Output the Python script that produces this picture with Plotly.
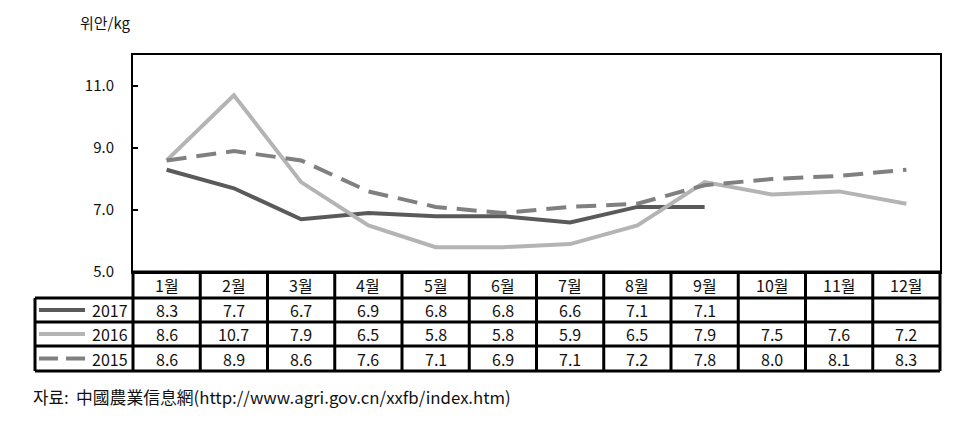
import plotly.graph_objects as go

months = ["1월", "2월", "3월", "4월", "5월", "6월", "7월", "8월", "9월", "10월", "11월", "12월"]
years = ["2017", "2016", "2015"]
v2017 = [8.3, 7.7, 6.7, 6.9, 6.8, 6.8, 6.6, 7.1, 7.1, None, None, None]
v2016 = [8.6, 10.7, 7.9, 6.5, 5.8, 5.8, 5.9, 6.5, 7.9, 7.5, 7.6, 7.2]
v2015 = [8.6, 8.9, 8.6, 7.6, 7.1, 6.9, 7.1, 7.2, 7.8, 8.0, 8.1, 8.3]
yticks = [5.0, 7.0, 9.0, 11.0]

W, H = 973, 436
L, R, T, B = 133, 940, 55, 272
PW, PH = R - L, B - T

def px(x):
    return (x - L) / PW

def py(y):
    return (B - y) / PH

FONT = "Noto Sans CJK KR"
series = [
    (years[0], v2017, "#5a5a5a", "solid"),
    (years[1], v2016, "#b4b4b4", "solid"),
    (years[2], v2015, "#808080", "20px,10px"),
]

xs = [i + 0.5 for i in range(12)]
fig = go.Figure()
for name, vals, col, dash in series:
    fig.add_trace(go.Scatter(x=xs, y=vals, mode="lines", name=name,
                             line=dict(color=col, width=4, dash=dash),
                             connectgaps=False, showlegend=False, hoverinfo="skip"))

shapes = []
ann = []
row_edges = [272, 298, 322, 346, 371]
shapes.append(dict(type="line", xref="paper", yref="paper", x0=0, x1=1,
                   y0=py(272), y1=py(272), line=dict(color="black", width=3)))
for yy in row_edges[1:]:
    shapes.append(dict(type="line", xref="paper", yref="paper", x0=px(35), x1=1,
                       y0=py(yy), y1=py(yy), line=dict(color="black", width=3)))
for i in range(13):
    shapes.append(dict(type="line", xref="paper", yref="paper", x0=i / 12, x1=i / 12,
                       y0=py(272), y1=py(371), line=dict(color="black", width=3)))
shapes.append(dict(type="line", xref="paper", yref="paper", x0=px(35), x1=px(35),
                   y0=py(298), y1=py(371), line=dict(color="black", width=3)))

for i, m in enumerate(months):
    ann.append(dict(x=xs[i], y=py(285), xref="x", yref="paper", text=m, showarrow=False,
                    font=dict(family=FONT, size=16, color="#111"), xanchor="center", yanchor="middle"))

row_centers = [310, 334, 358.5]
for r, (name, vals, col, dash) in enumerate(series):
    yc = row_centers[r]
    for i, v in enumerate(vals):
        if v is None:
            continue
        ann.append(dict(x=xs[i], y=py(yc), xref="x", yref="paper", text=f"{v:.1f}", showarrow=False,
                        font=dict(family=FONT, size=16, color="#111"), xanchor="center", yanchor="middle"))
    if dash != "solid":
        for a, b in [(39, 58), (66, 85)]:
            shapes.append(dict(type="line", xref="paper", yref="paper", x0=px(a), x1=px(b),
                               y0=py(yc), y1=py(yc), line=dict(color=col, width=4)))
    else:
        shapes.append(dict(type="line", xref="paper", yref="paper", x0=px(39), x1=px(85),
                           y0=py(yc), y1=py(yc), line=dict(color=col, width=4)))
    ann.append(dict(x=px(130), y=py(yc), xref="paper", yref="paper", text=name, showarrow=False,
                    font=dict(family=FONT, size=16, color="#111"), xanchor="right", yanchor="middle"))

ann.append(dict(x=px(78), y=py(23), xref="paper", yref="paper", text="위안/kg", showarrow=False,
                font=dict(family=FONT, size=15, color="#111"), xanchor="left", yanchor="middle"))
ann.append(dict(x=px(31), y=py(397), xref="paper", yref="paper",
                text="자료:  中國農業信息網(http://www.agri.gov.cn/xxfb/index.htm)", showarrow=False,
                font=dict(family=FONT, size=16.8, color="#111"), xanchor="left", yanchor="middle"))

fig.update_layout(
    width=W, height=H, margin=dict(l=L, r=W - R, t=T, b=H - B, pad=0),
    paper_bgcolor="white", plot_bgcolor="white",
    xaxis=dict(range=[0, 12], showgrid=False, zeroline=False, showticklabels=False, ticks="",
               showline=True, mirror=True, linecolor="black", linewidth=2),
    yaxis=dict(range=[5, 12], showgrid=False, zeroline=False, tickvals=yticks,
               ticktext=[f"{t:.1f}" for t in yticks], ticks="inside", ticklen=5, tickwidth=2,
               tickcolor="black", showline=True, mirror=True, linecolor="black", linewidth=2,
               tickfont=dict(family=FONT, size=15, color="#111"), ticklabelstandoff=14),
    shapes=shapes, annotations=ann,
)
fig.write_html("out.html", config={"displayModeBar": False},
               post_script="document.body.style.margin='0';")
